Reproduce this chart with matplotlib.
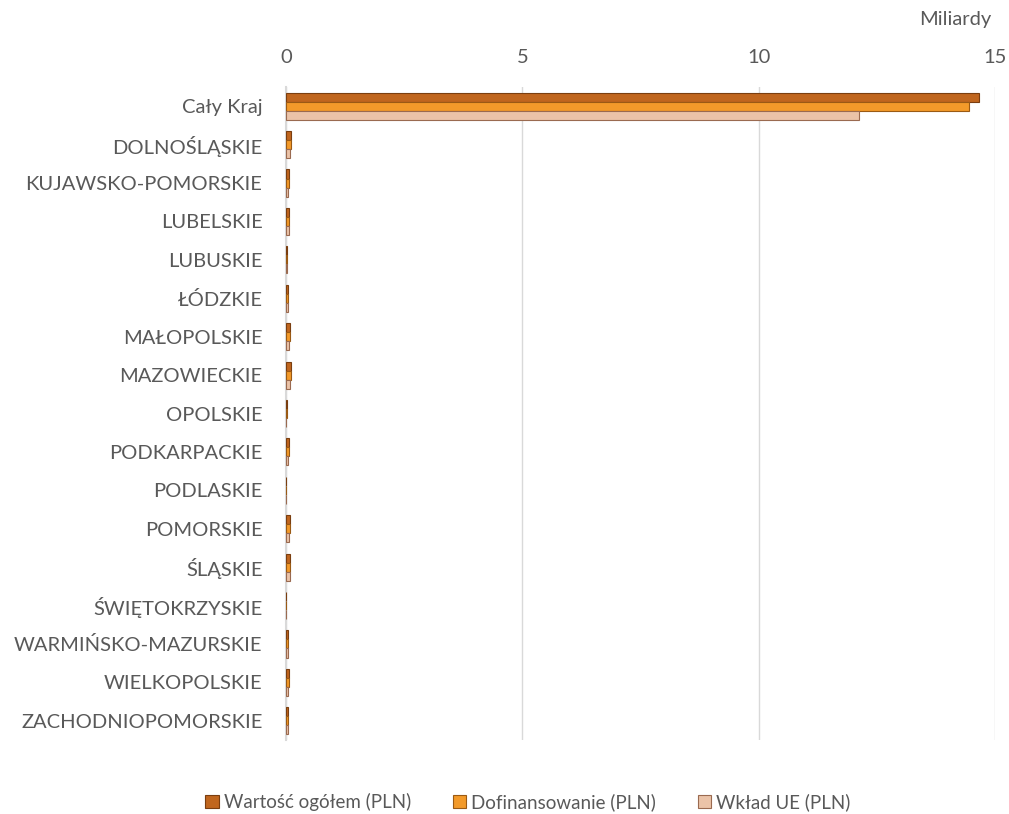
import numpy as np
import matplotlib.pyplot as plt

plt.rcParams['font.family'] = ['Lato', 'DejaVu Sans']

regiony = ['Cały Kraj', 'DOLNOŚLĄSKIE', 'KUJAWSKO-POMORSKIE', 'LUBELSKIE', 'LUBUSKIE',
           'ŁÓDZKIE', 'MAŁOPOLSKIE', 'MAZOWIECKIE', 'OPOLSKIE', 'PODKARPACKIE',
           'PODLASKIE', 'POMORSKIE', 'ŚLĄSKIE', 'ŚWIĘTOKRZYSKIE',
           'WARMIŃSKO-MAZURSKIE', 'WIELKOPOLSKIE', 'ZACHODNIOPOMORSKIE']

# wartości w miliardach PLN
wartosc = [14.67, 0.10, 0.063, 0.065, 0.015, 0.045, 0.085, 0.10, 0.012, 0.065,
           0.010, 0.085, 0.085, 0.010, 0.045, 0.065, 0.045]
dofinansowanie = [14.46, 0.10, 0.063, 0.065, 0.014, 0.045, 0.085, 0.10, 0.011, 0.065,
                  0.009, 0.085, 0.085, 0.009, 0.045, 0.065, 0.040]
wklad_ue = [12.13, 0.09, 0.040, 0.060, 0.012, 0.040, 0.065, 0.08, 0.010, 0.040,
            0.008, 0.065, 0.080, 0.008, 0.040, 0.045, 0.035]

serie = [('Wartość ogółem (PLN)', wartosc, '#C0661E', '#7A3E10'),
         ('Dofinansowanie (PLN)', dofinansowanie, '#F39A2A', '#9A5A14'),
         ('Wkład UE (PLN)', wklad_ue, '#EBC3A8', '#9A6A50')]

fig = plt.figure(figsize=(10.09, 8.14), dpi=100)
ax = fig.add_axes([286 / 1009, 1 - 740 / 814, (995 - 286) / 1009, (740 - 87) / 814])

y = np.arange(len(regiony))
h = 0.235
for i, (nazwa, vals, kolor, kraw) in enumerate(serie):
    ax.barh(y + (i - 1) * h, vals, height=h, color=kolor, edgecolor=kraw,
            linewidth=0.8, label=nazwa, zorder=3)

ax.set_xlim(0, 15)
ax.set_ylim(len(regiony) - 0.5, -0.5)
ax.set_xticks([0, 5, 10, 15])
ax.xaxis.tick_top()
ax.tick_params(axis='x', length=0, pad=15, labelsize=14.5, labelcolor='#595959')
ax.set_yticks(y)
ax.set_yticklabels(regiony)
ax.tick_params(axis='y', length=0, pad=17, labelsize=14.5, labelcolor='#595959')
ax.grid(axis='x', color='#D9D9D9', linewidth=1, zorder=0)
for s in ['top', 'right', 'bottom']:
    ax.spines[s].set_visible(False)
ax.spines['left'].set_color('#D9D9D9')
ax.spines['left'].set_linewidth(1.5)

fig.text(955 / 1009, 1 - 20 / 814, 'Miliardy', ha='center', va='center',
         fontsize=14.5, color='#595959')

fig.legend(loc='center', bbox_to_anchor=(528 / 1009, 1 - 802 / 814), ncol=3,
           frameon=False, fontsize=13.5, handlelength=0.7, handleheight=0.7,
           handletextpad=0.3, columnspacing=2.2, labelcolor='#595959')

fig.savefig('out.png', dpi=100)
